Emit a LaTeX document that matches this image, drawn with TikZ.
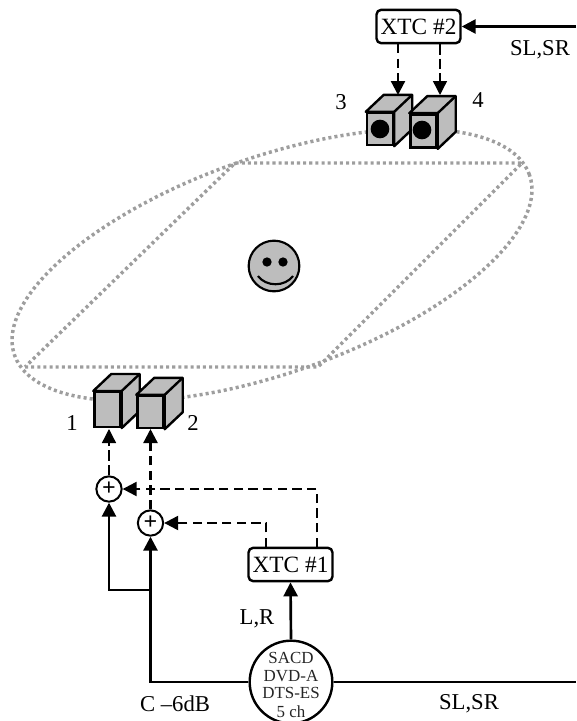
\documentclass[tikz,border=0pt]{standalone}
\usepackage{fontspec}
\setmainfont{Liberation Serif}
\usetikzlibrary{arrows.meta,calc,positioning}

\tikzset{
  lbl/.style={font=\fontsize{17}{17}\selectfont,inner sep=0pt},
  xtcbox/.style={draw,line width=1.8pt,rounded corners=3.5pt,fill=white,inner sep=0pt,
    minimum width=63pt,minimum height=25pt,font=\fontsize{17.5}{17}\selectfont},
  srcnode/.style={circle,draw,line width=1.8pt,fill=white,inner sep=0pt,minimum size=62pt},
  sumnode/.style={circle,draw,line width=1.5pt,fill=white,inner sep=0pt,minimum size=19pt},
  spkfront/.style={draw,line width=1.8pt,fill=black!26,inner sep=0pt,minimum width=19.5pt},
  spkline/.style={line width=1.8pt,fill=black!26,line join=round},
  spkcone/.style={circle,fill=black,inner sep=0pt,minimum size=14pt},
  room/.style={draw=black!38,line width=2.6pt,dash pattern=on 2.3pt off 2.3pt},
  tip/.style={-{Triangle[length=10.5pt,width=10.5pt]}},
  sline/.style={tip,line width=2pt},
  dline/.style={tip,line width=1.7pt,dash pattern=on 7pt off 4pt},
  tline/.style={tip,line width=1pt,dash pattern=on 8pt off 3pt},
}

\newcommand{\spkbox}[4]{%
  \node[spkfront,minimum height=#4] (#1) at (#2,#3) {};
  \draw[spkline] (#1.north west) -- ($(#1.north west)+(18,-17)$) -- ($(#1.north east)+(18,-17)$)
    -- ($(#1.south east)+(18,-17)$) -- (#1.south east) -- (#1.north east) -- cycle;
  \draw[line width=1.8pt] (#1.north east) -- ($(#1.north east)+(18,-17)$);
}

\begin{document}
\begin{tikzpicture}[x=0.75pt,y=-0.75pt]
  \useasboundingbox (0,0) rectangle (576,721);
  \clip (0,0) rectangle (576,721);

  % listening area
  \coordinate (roomA) at (25,367);
  \coordinate (roomB) at (318,367);
  \coordinate (roomC) at (522,163);
  \coordinate (roomD) at (235,163);
  \draw[room] (roomA) -- (roomB) -- (roomC) -- (roomD) -- cycle;
  \draw[room,rotate around={19.3:(272,265)}] (272,265) ellipse [x radius=204.6pt,y radius=81pt];

  % listener
  \node[circle,draw,line width=1.6pt,fill=black!26,minimum size=38pt,inner sep=0pt] (face) at (274,266) {};
  \node[circle,fill=black,minimum size=7pt,inner sep=0pt] (eyeL) at (267,262) {};
  \node[circle,fill=black,minimum size=7pt,inner sep=0pt] (eyeR) at (283,262) {};
  \draw[line width=1.6pt] (258,276) .. controls (266,287) and (285,287) .. (293,276);

  % speakers
  \spkbox{spkC}{380}{129}{24pt}
  \node[spkcone] (coneC) at (spkC) {};
  \spkbox{spkD}{423.5}{131}{25pt}
  \node[spkcone] (coneD) at (422,130) {};
  \spkbox{spkA}{107.5}{409.5}{26pt}
  \spkbox{spkB}{150.5}{412}{24pt}

  \node[lbl] (numC) at (341,102) {3};
  \node[lbl] (numD) at (478,100) {4};
  \node[lbl] (numA) at (72,423) {1};
  \node[lbl] (numB) at (193,423) {2};

  % processing
  \node[xtcbox] (xtcB) at (418.5,26.5) {XTC \#2};
  \node[xtcbox] (xtcA) at (290.5,564.5) {XTC \#1};
  \node[srcnode] (src) at (291,682) {};
  \node[font=\fontsize{12.7}{13}\selectfont,inner sep=0pt,text=black!85] (srcA) at (291,658) {SACD};
  \node[font=\fontsize{12.7}{13}\selectfont,inner sep=0pt,text=black!85] (srcB) at (291,676) {DVD-A};
  \node[font=\fontsize{12.7}{13}\selectfont,inner sep=0pt,text=black!85] (srcC) at (291,693) {DTS-ES};
  \node[font=\fontsize{12.7}{13}\selectfont,inner sep=0pt,text=black!85] (srcD) at (291,712) {5 ch};
  \node[sumnode,font=\fontsize{18}{18}\selectfont\bfseries] (sumA) at (109,489) {+};
  \node[sumnode,font=\fontsize{18}{18}\selectfont\bfseries] (sumB) at (150.5,523) {+};

  % free ends and joints
  \coordinate (inB) at (576,26.5);
  \coordinate (outR) at (576,682);
  \coordinate (jn) at (150.5,590);
  \coordinate (spkCin) at (398,95);
  \coordinate (spkDin) at (440,95);
  \coordinate (spkAin) at (109,429);
  \coordinate (spkBin) at (150.5,429);
  \coordinate (xtcAl) at (266,547);
  \coordinate (xtcAr) at (317,547);
  \coordinate (xtcBl) at (398,44);
  \coordinate (xtcBr) at (440,44);

  \draw[sline] (inB) -- (xtcB.east);
  \draw[dline] (xtcBl) -- (spkCin);
  \draw[tline] (xtcBr) -- (spkDin);

  \draw[sline] (src.north) -- (xtcA.south);
  \draw[line width=2pt] (src.east) -- (outR);
  \draw[sline] (src.west) -| (sumB.south);
  \draw[sline] (jn) -| (sumA.south);
  \draw[tline] (sumA.north) -- (spkAin);
  \draw[dline] (sumB.north) -- (spkBin);
  \draw[dline] (xtcAr) |- (sumA.east);
  \draw[dline] (xtcAl) |- (sumB.east);

  % channel labels
  \node[lbl] (lblSLb) at (540,50) {SL,SR};
  \node[lbl] (lblLR) at (257,619) {L,R};
  \node[lbl] (lblC) at (175,704) {C –6dB};
  \node[lbl] (lblSLa) at (469,704) {SL,SR};
\end{tikzpicture}
\end{document}
